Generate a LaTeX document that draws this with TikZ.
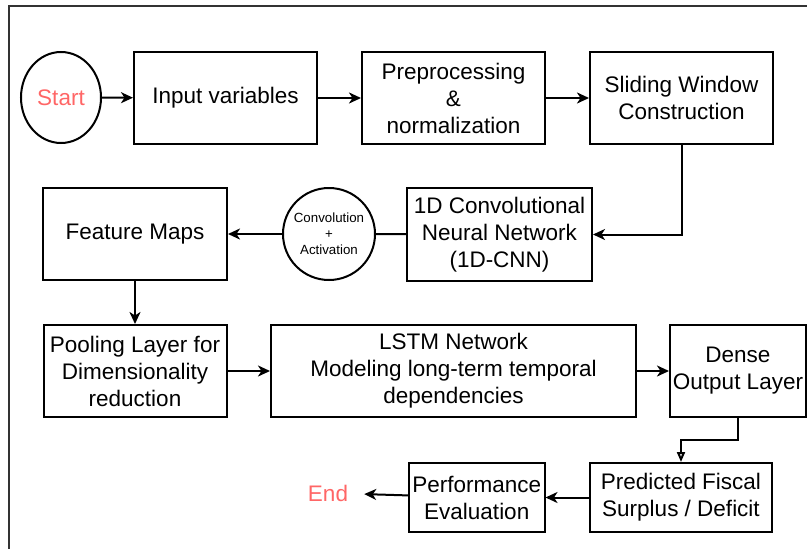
\documentclass[tikz,border=0pt]{standalone}
\usepackage{fontspec}
\setmainfont{Liberation Sans}
\usepackage{xcolor}
\usepackage{tikz}
\usetikzlibrary{shapes.geometric}
\usetikzlibrary{arrows.meta}
\definecolor{termred}{RGB}{255,102,102}

\tikzset{
	block/.style={draw, rectangle, line width=2pt, align=center, inner sep=0pt, font=\fontsize{22.5}{27}\selectfont},
	flow/.style={line width=2pt, -{Stealth[length=12pt,width=11pt,inset=3.5pt]}},
}

\begin{document}
\begin{tikzpicture}[x=1pt,y=-1pt]
	\useasboundingbox (0,0) rectangle (807,549);
	
	% outer frame (cut off at right and bottom)
	\draw[line width=2pt, black!80] (9,549) -- (9,6) -- (807,6);
	
	% First row
	\node[block, ellipse, minimum width=80pt, minimum height=91pt, text=termred] (start) at (61,97.5) {Start};
	\node[block, minimum width=183pt, minimum height=92pt] (input) at (225.5,98) {Input variables};
	\node[block, minimum width=183pt, minimum height=92pt] (prep) at (453.5,98) {Preprocessing\\\&\\normalization};
	\node[block, minimum width=183pt, minimum height=92pt] (slide) at (681.5,98) {Sliding Window\\Construction};
	
	% Second row
	\node[block, minimum width=185pt, minimum height=93pt] (cnn) at (499.5,234.5) {1D Convolutional\\Neural Network\\(1D-CNN)};
	\node[block, circle, minimum size=92pt, font=\fontsize{13.3}{16}\selectfont] (conv) at (329,234) {Convolution\\+\\Activation};
	\node[block, minimum width=184pt, minimum height=92pt] (feat) at (135,234) {Feature Maps};
	
	% Third row
	\node[block, minimum width=183pt, minimum height=92pt] (pool) at (135,371) {Pooling Layer for\\Dimensionality\\reduction};
	\node[block, minimum width=365pt, minimum height=92pt] (lstm) at (453.5,371) {LSTM Network\\Modeling long-term temporal\\dependencies};
	\node[block, minimum width=136pt, minimum height=92pt] (dense) at (738,371) {Dense\\Output Layer};
	
	% Fourth row
	\node[block, minimum width=182pt, minimum height=69pt] (pred) at (681,497.5) {Predicted Fiscal\\Surplus / Deficit};
	\node[block, minimum width=135.5pt, minimum height=69pt] (perf) at (476.75,497.5) {Performance\\Evaluation};
	\node[font=\fontsize{22.5}{27}\selectfont, text=termred, inner xsep=16pt] (end) at (328,493) {End};
	
	% connectors
	\draw[flow] (start) -- (input);
	\draw[flow] (input) -- (prep);
	\draw[flow] (prep) -- (slide);
	\draw[flow] (slide.south) |- (cnn.east);
	\draw[line width=2pt] (cnn) -- (conv);
	\draw[flow] (conv) -- (feat);
	\draw[flow] (feat) -- (pool);
	\draw[flow] (pool) -- (lstm);
	\draw[flow] (lstm) -- (dense);
	\draw[line width=2pt, -{Triangle[open, length=10pt, width=8pt]}] (dense.south) -- ++(0,22) -| (pred.north);
	\draw[flow] (pred) -- (perf);
	\draw[flow] (perf) -- (end);
	
\end{tikzpicture}
\end{document}
